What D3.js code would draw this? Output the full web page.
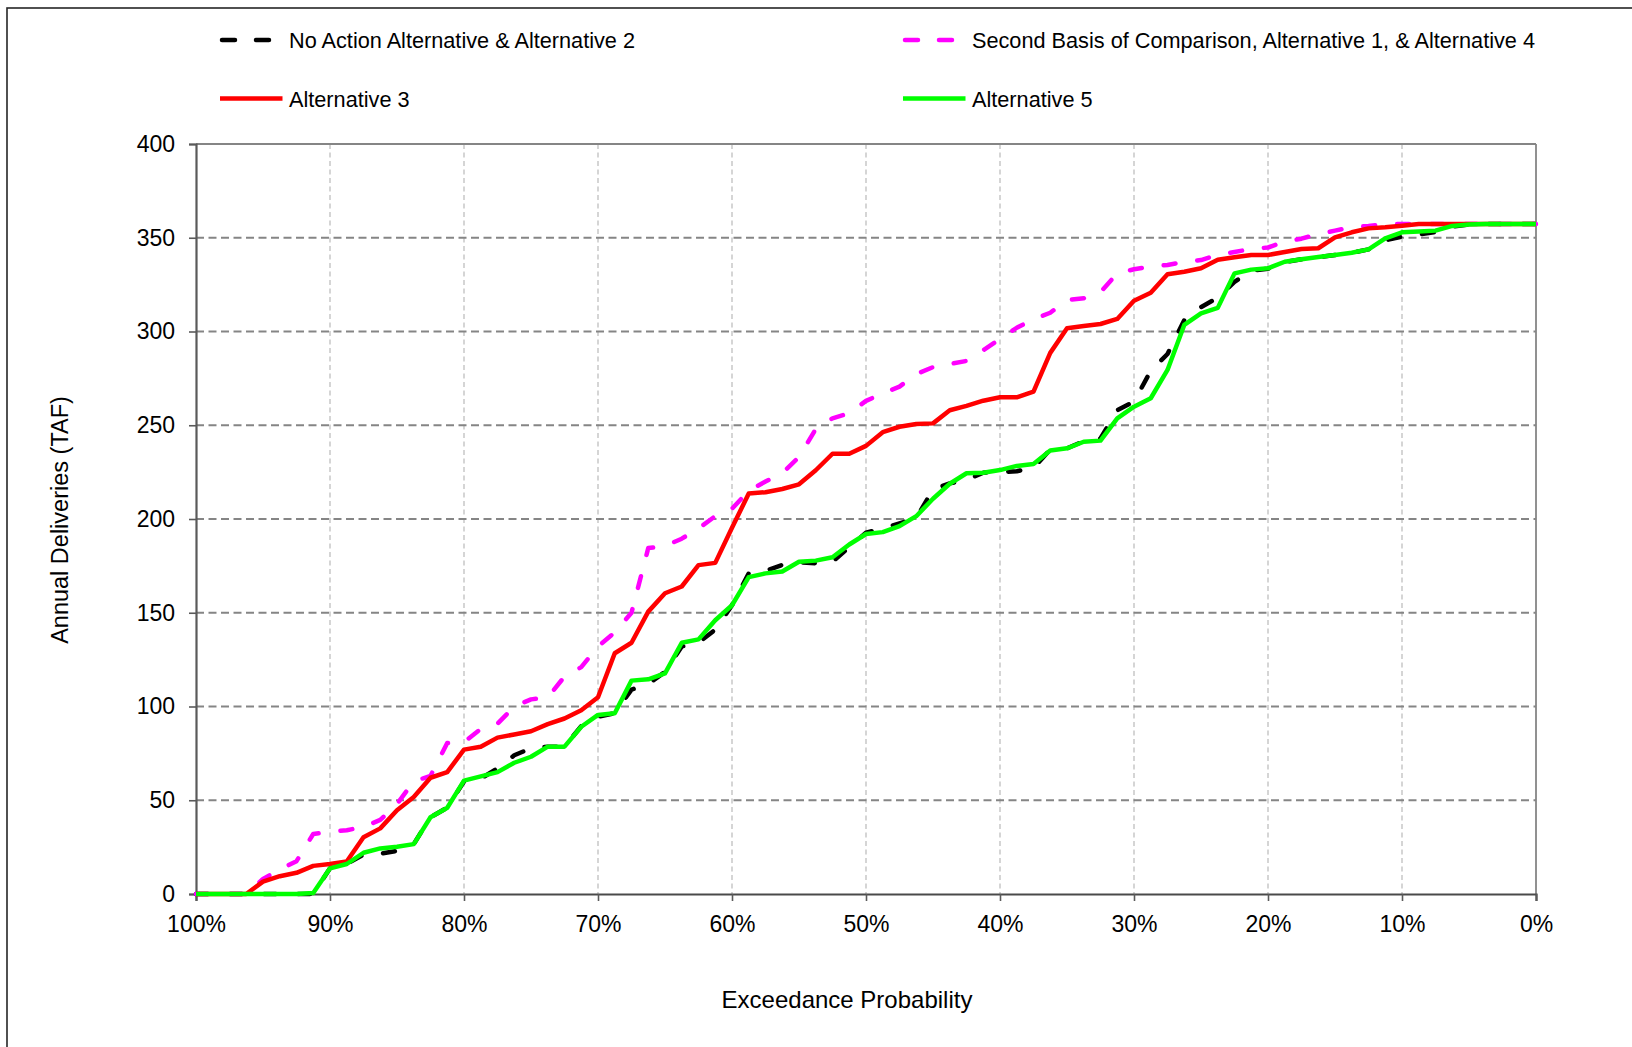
<!DOCTYPE html>
<html>
<head>
<meta charset="utf-8">
<script src="https://cdnjs.cloudflare.com/ajax/libs/d3/7.8.5/d3.min.js"></script>
<style>
  html, body { margin: 0; padding: 0; background: #fff; }
  svg { display: block; }
  text { font-family: "Liberation Sans", Arial, sans-serif; fill: #000; }
</style>
</head>
<body>
<svg id="chart" width="1632" height="1047"></svg>
<script>
// ---------- DATA ----------
const exceedance = [100,98.75,97.5,96.25,95,93.75,92.5,91.25,90,88.75,87.5,86.25,85,83.75,82.5,81.25,80,78.75,77.5,76.25,
  75,73.75,72.5,71.25,70,68.75,67.5,66.25,65,63.75,62.5,61.25,60,58.75,57.5,56.25,55,53.75,52.5,51.25,
  50,48.75,47.5,46.25,45,43.75,42.5,41.25,40,38.75,37.5,36.25,35,33.75,32.5,31.25,30,28.75,27.5,26.25,
  25,23.75,22.5,21.25,20,18.75,17.5,16.25,15,13.75,12.5,11.25,10,8.75,7.5,6.25,5,3.75,2.5,1.25,0];

const noActionAlt2 = [0,0,0,0,0,0,0,0,13.7,16,21,21.5,23,26.6,41,46,60,61.5,67,74,
  77.7,78.6,78.6,89.5,94.6,96.4,109,112,118.5,132,134,141,154,171,172.4,175.5,177,176.4,177.2,185,
  192.7,195,197.7,200.4,215.8,219,220.8,224.7,225,225.5,227.3,237,237.7,241.5,243,258,262.6,279,288,306,
  313,318,326.5,332.5,333.5,337,338.5,339.7,340.8,342,343.8,348.6,350.6,351.8,353,356,357,357.3,357.3,357.3,357.3];

const sbcAlt1Alt4 = [0,0,0,0,8,13,17.5,32,33.2,34,35.8,39.5,48,60,63,80.5,81,88,90.8,100,
  103.8,104.8,116,121,132,139.5,150,184.5,185.6,189.5,195,201.5,205.5,215,220,224.5,233,248,253.7,256.4,
  263,267,270.6,277.3,281,282.7,284.3,290,296,302,306.5,310,316.8,317.7,321,331,333.2,334.6,335.5,337.2,
  338.1,341,342.4,344,344.8,347.9,349.5,352,353.8,355.6,356.3,357.3,357.3,357.3,357.3,357.3,357.3,357.3,357.3,357.3,357.3];

const alt3 = [0,0,0,0,6.6,9.5,11.3,15,16,17.3,30.3,35,44.7,51.7,62,65,77,78.5,83.4,85.1,
  86.8,90.6,93.6,98,104.9,128.4,134,150.6,160.4,164,175.4,176.6,195.3,213.6,214.3,216,218.5,226,234.8,234.8,
  239,246.3,249.2,250.7,251,258,260.3,263.1,264.9,264.9,267.9,288.6,301.7,302.9,304,306.7,316.4,320.7,330.5,331.9,
  333.7,338.3,339.6,340.8,340.8,342.4,344,344.4,350.2,352.9,355,355.6,356.4,357.3,357.3,357.3,357.3,357.3,357.3,357.3,357.3];

const alt5 = [0,0,0,0,0,0,0,0.5,13.7,16,22,24.3,25.2,26.6,40.9,46,60.5,62.7,65,70,
  73.2,78.6,78.6,89.2,95.5,96.4,113.8,114.5,117.7,134,135.8,146,154,169,171,172,177.2,177.8,179.6,186.4,
  192,193,196.2,201.5,210.8,218.8,224.4,224.7,226.1,228.3,229.3,236.5,237.7,241.2,241.8,253.7,259.9,264.4,279.5,303.5,
  309.7,312.6,331,333,333.7,337.2,338.5,339.7,340.8,342,343.8,349.7,352.9,353.3,353.8,356.3,357.1,357.3,357.3,357.3,357.3];

const seriesNames = ["No Action Alternative & Alternative 2",
                     "Second Basis of Comparison, Alternative 1, & Alternative 4",
                     "Alternative 3",
                     "Alternative 5"];
const xTickValues = [100,90,80,70,60,50,40,30,20,10,0];
const xTickLabels = ["100%","90%","80%","70%","60%","50%","40%","30%","20%","10%","0%"];
const yTickValues = [0,50,100,150,200,250,300,350,400];
const xTitle = "Exceedance Probability";
const yTitle = "Annual Deliveries (TAF)";

// ---------- LAYOUT ----------
const svg = d3.select("#chart");
const L = 196, R = 1536, T = 144, B = 894;

const x = d3.scaleLinear().domain([100, 0]).range([L, R]);
const y = d3.scaleLinear().domain([0, 400]).range([B, T]);

// outer frame
svg.append("rect").attr("x", 7).attr("y", 8).attr("width", 1700).attr("height", 1200)
  .attr("fill", "none").attr("stroke", "#262626").attr("stroke-width", 1.6);

// vertical gridlines
svg.append("g").selectAll("line").data(xTickValues.filter(d => d !== 100 && d !== 0)).join("line")
  .attr("x1", d => x(d)).attr("x2", d => x(d)).attr("y1", T).attr("y2", B)
  .attr("stroke", "#c4c4c4").attr("stroke-width", 1.4).attr("stroke-dasharray", "5,3.5");

// horizontal gridlines
svg.append("g").selectAll("line").data(yTickValues.filter(d => d !== 0 && d !== 400)).join("line")
  .attr("x1", L).attr("x2", R).attr("y1", d => y(d)).attr("y2", d => y(d))
  .attr("stroke", "#858585").attr("stroke-width", 1.8).attr("stroke-dasharray", "8,4.5");

// plot border top/right
svg.append("line").attr("x1", L).attr("x2", R).attr("y1", T).attr("y2", T)
  .attr("stroke", "#858585").attr("stroke-width", 1.8);
svg.append("line").attr("x1", R).attr("x2", R).attr("y1", T).attr("y2", B)
  .attr("stroke", "#858585").attr("stroke-width", 1.8);

// axes
const yAxis = d3.axisLeft(y).tickValues(yTickValues).tickSize(7).tickPadding(14).tickFormat(d3.format("d"));
const gy = svg.append("g").attr("transform", `translate(${L},0)`).call(yAxis);
gy.select(".domain").attr("stroke", "#5a5a5a").attr("stroke-width", 2.2);
gy.selectAll(".tick line").attr("stroke", "#5a5a5a").attr("stroke-width", 1.6);
gy.selectAll(".tick text").style("font-size", "23px").attr("fill", "#000")
  .style("font-family", "'Liberation Sans', Arial, sans-serif");

const xAxis = d3.axisBottom(x).tickValues(xTickValues).tickSize(7).tickPadding(15)
  .tickFormat((d, i) => xTickLabels[i]);
const gx = svg.append("g").attr("transform", `translate(0,${B})`).call(xAxis);
gx.select(".domain").attr("stroke", "#4a4a4a").attr("stroke-width", 2.2);
gx.selectAll(".tick line").attr("stroke", "#5a5a5a").attr("stroke-width", 1.6);
gx.selectAll(".tick text").style("font-size", "23px").attr("fill", "#000")
  .style("font-family", "'Liberation Sans', Arial, sans-serif");

// axis titles
svg.append("text").attr("x", 847).attr("y", 1008).attr("text-anchor", "middle")
  .style("font-size", "24px").text(xTitle);
svg.append("text").attr("transform", "translate(68,520) rotate(-90)").attr("text-anchor", "middle")
  .style("font-size", "23.5px").text(yTitle);

// series
const mk = vals => exceedance.map((p, i) => ({p, v: vals[i]}));
const line = d3.line().x(d => x(d.p)).y(d => y(d.v));
const series = [
  {name: seriesNames[0], data: mk(noActionAlt2), color: "#000000", dash: "12,22"},
  {name: seriesNames[1], data: mk(sbcAlt1Alt4), color: "#FF00FF", dash: "12,22"},
  {name: seriesNames[2], data: mk(alt3), color: "#FF0000", dash: null},
  {name: seriesNames[3], data: mk(alt5), color: "#00FF00", dash: null}
];
svg.append("g").selectAll("path").data(series).join("path")
  .attr("d", s => line(s.data)).attr("fill", "none")
  .attr("stroke", s => s.color).attr("stroke-width", 4.5)
  .attr("stroke-linejoin", "round")
  .attr("stroke-linecap", s => s.dash ? "round" : "butt")
  .attr("stroke-dasharray", s => s.dash);

// legend
const legendPos = [
  {x: 220, y: 40}, {x: 903, y: 40}, {x: 220, y: 98.5}, {x: 903, y: 98.5}
];
const lg = svg.append("g").selectAll("g").data(series).join("g")
  .attr("transform", (s, i) => `translate(${legendPos[i].x},${legendPos[i].y})`);
lg.append("line").attr("x1", s => s.dash ? 2 : 0).attr("x2", s => s.dash ? 61 : 62.5)
  .attr("y1", 0).attr("y2", 0)
  .attr("stroke", s => s.color).attr("stroke-width", 4.5)
  .attr("stroke-linecap", s => s.dash ? "round" : "butt")
  .attr("stroke-dasharray", s => s.dash ? "13,21" : null);
lg.append("text").attr("x", 69).attr("y", 8).style("font-size", "21.7px").text(s => s.name);
</script>
</body>
</html>
